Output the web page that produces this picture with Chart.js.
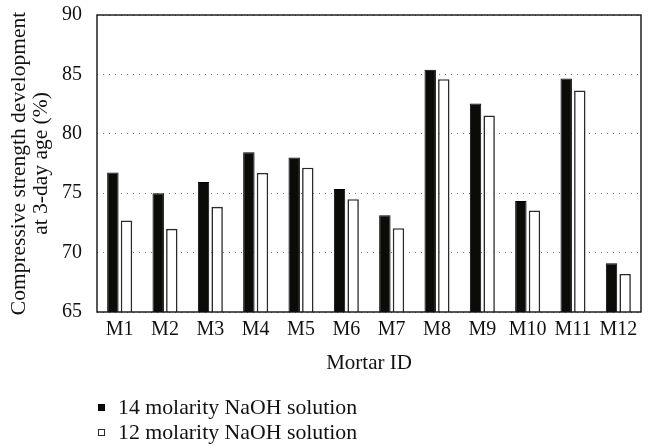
<!DOCTYPE html>
<html>
<head>
<meta charset="utf-8">
<script src="https://cdn.jsdelivr.net/npm/chart.js@4.4.1/dist/chart.umd.min.js"></script>
<style>
  html, body { margin: 0; padding: 0; background: #fff; }
  #wrap { position: relative; width: 655px; height: 446px; }
  #legend { position: absolute; left: 94px; top: 395px; font-family: "Liberation Serif", serif; font-size: 21.8px; color: #111; }
  .item { display: flex; align-items: center; height: 25px; }
  .swatch { width: 7px; height: 7px; box-sizing: border-box; margin-left: 4px; margin-right: 13px; }
</style>
</head>
<body>
<div id="wrap">
  <canvas id="c" width="655" height="446"></canvas>
  <div id="legend"></div>
</div>
<script>
// Mortar mixes on the category axis
const mortarIds = ['M1', 'M2', 'M3', 'M4', 'M5', 'M6', 'M7', 'M8', 'M9', 'M10', 'M11', 'M12'];

// 3-day compressive strength development (%) for each NaOH concentration
const naoh14 = [76.75, 75.0, 75.95, 78.45, 78.0, 75.35, 73.15, 85.4, 82.55, 74.35, 84.65, 69.1];
const naoh12 = [72.7, 72.0, 73.85, 76.7, 77.15, 74.5, 72.05, 84.6, 81.55, 73.55, 83.65, 68.2];

const seriesNames = ['14 molarity NaOH solution', '12 molarity NaOH solution'];
const yTicks = [65, 70, 75, 80, 85, 90];

const FONT = '"Liberation Serif", "Times New Roman", serif';

// draws the full frame around the plotting area
const frame = {
  id: 'frame',
  afterDatasetsDraw(chart) {
    const { ctx, chartArea: a } = chart;
    ctx.save();
    ctx.strokeStyle = '#111';
    ctx.lineWidth = 1.4;
    ctx.strokeRect(a.left, a.top, a.right - a.left, a.bottom - a.top);
    ctx.restore();
  }
};

const chart = new Chart(document.getElementById('c'), {
  type: 'bar',
  data: {
    labels: mortarIds,
    datasets: [
      {
        label: seriesNames[0],
        data: naoh14,
        backgroundColor: '#0b0b07',
        borderColor: '#000',
        borderWidth: 1
      },
      {
        label: seriesNames[1],
        data: naoh12,
        backgroundColor: '#ffffff',
        borderColor: '#2a2a2a',
        borderWidth: 1.6
      }
    ]
  },
  options: {
    responsive: false,
    animation: false,
    categoryPercentage: 0.6,
    barPercentage: 0.84,
    layout: { padding: { left: 0, right: 14, top: 15, bottom: 70 } },
    plugins: {
      legend: { display: false },
      tooltip: { enabled: false }
    },
    scales: {
      x: {
        grid: { display: false, drawTicks: false },
        border: { display: false },
        ticks: { color: '#111', font: { family: FONT, size: 20 }, padding: 6, maxRotation: 0, autoSkip: false },
        title: { display: true, text: 'Mortar ID', color: '#111', font: { family: FONT, size: 21 }, padding: 0 },
        afterFit(s) { s.height = 64; s.paddingLeft = 0; s.paddingRight = 0; }
      },
      y: {
        min: 65,
        max: 90,
        afterBuildTicks(s) { s.ticks = yTicks.map(v => ({ value: v })); },
        grid: { color: '#7a7a7a', lineWidth: 1, drawTicks: false },
        border: { display: false, dash: [1, 5] },
        ticks: { color: '#111', font: { family: FONT, size: 20 }, padding: 15 },
        title: {
          display: true,
          text: ['Compressive strength development', 'at 3-day age (%)'],
          color: '#111',
          font: { family: FONT, size: 21.5, lineHeight: 1.03 },
          padding: { top: 8, bottom: 0 }
        },
        afterFit(s) { s.width = 97; s.paddingTop = 0; s.paddingBottom = 0; }
      }
    }
  },
  plugins: [frame]
});

// legend below the plot, one entry per line
const legend = document.getElementById('legend');
chart.data.datasets.forEach(ds => {
  const row = document.createElement('div');
  row.className = 'item';
  const sw = document.createElement('span');
  sw.className = 'swatch';
  sw.style.background = ds.backgroundColor;
  sw.style.border = '1.2px solid ' + ds.borderColor;
  const txt = document.createElement('span');
  txt.textContent = ds.label;
  row.appendChild(sw);
  row.appendChild(txt);
  legend.appendChild(row);
});
</script>
</body>
</html>
